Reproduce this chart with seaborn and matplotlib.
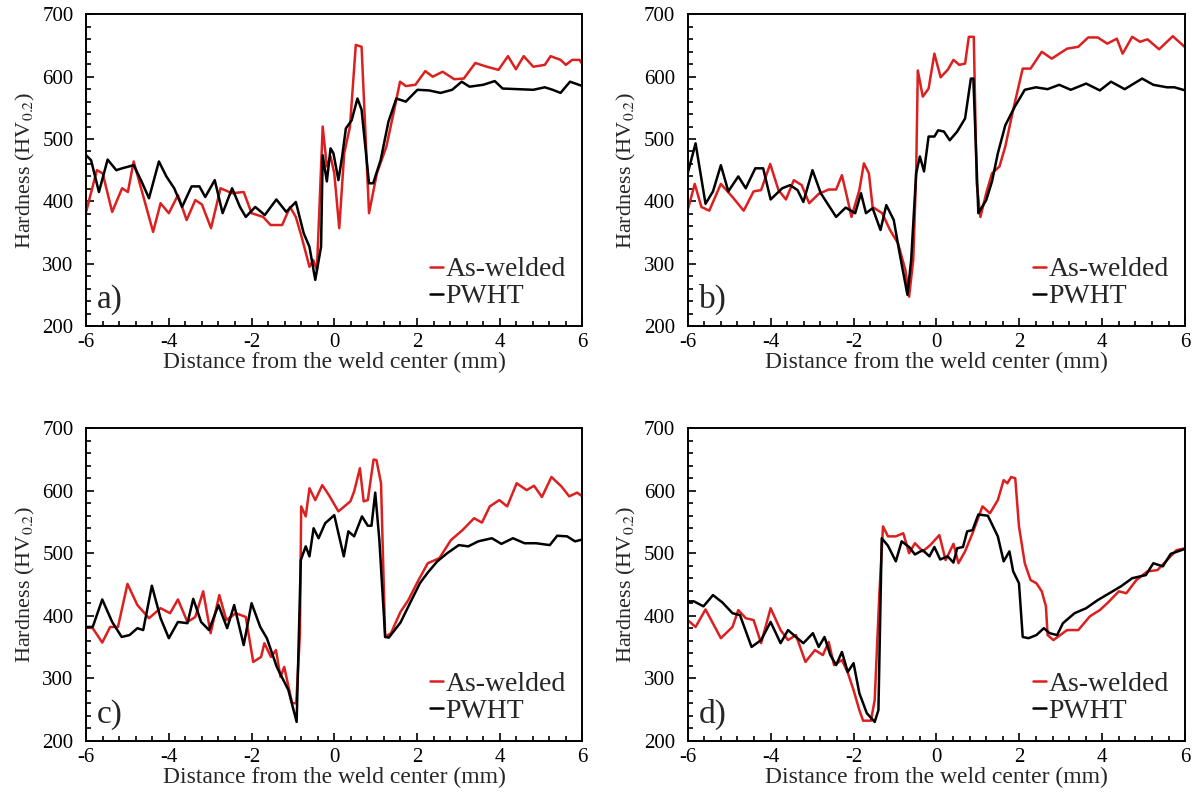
import numpy as np
import matplotlib
matplotlib.use("Agg")
import matplotlib.pyplot as plt
from matplotlib.ticker import MultipleLocator
import seaborn as sns

# panel a
a_red_x = [-6, -5.74, -5.6, -5.37, -5.13, -4.99, -4.85, -4.38, -4.2, -4.0, -3.78, -3.57, -3.36, -3.2,
           -2.98, -2.75, -2.47, -2.19, -2.0, -1.72, -1.54, -1.26, -1.07, -0.93, -0.79, -0.6, -0.51, -0.42,
           -0.28, -0.18, -0.09, 0.0, 0.12, 0.24, 0.38, 0.52, 0.66, 0.84, 1.03, 1.26, 1.45, 1.59, 1.73,
           1.96, 2.2, 2.38, 2.62, 2.9, 3.13, 3.41, 3.69, 3.97, 4.2, 4.39, 4.58, 4.81, 5.09, 5.23, 5.47,
           5.6, 5.75, 5.93, 6]
a_red_y = [383, 450, 445, 383, 421, 415, 464, 351, 397, 381, 410, 370, 402, 395,
           357, 421, 413, 415, 381, 375, 362, 362, 391, 375, 343, 295, 306, 290,
           520, 456, 472, 445, 357, 477, 520, 651, 648, 381, 445, 488, 547, 592, 585,
           587, 609, 600, 608, 596, 597, 622, 616, 611, 633, 612, 633, 616, 619, 633, 627,
           619, 627, 627, 620]
a_blk_x = [-6, -5.88, -5.69, -5.48, -5.27, -5.13, -4.85, -4.66, -4.48, -4.24, -4.06, -3.87, -3.68,
           -3.45, -3.26, -3.12, -2.89, -2.7, -2.47, -2.28, -2.14, -1.91, -1.68, -1.4, -1.16, -0.93,
           -0.74, -0.6, -0.46, -0.32, -0.28, -0.18, -0.09, -0.02, 0.1, 0.19, 0.28, 0.42, 0.56, 0.66,
           0.84, 0.94, 1.12, 1.31, 1.5, 1.73, 2.01, 2.29, 2.57, 2.85, 3.08, 3.27, 3.6, 3.88, 4.07,
           4.44, 4.81, 5.09, 5.28, 5.47, 5.7, 6]
a_blk_y = [474, 466, 415, 467, 450, 453, 458, 432, 405, 464, 440, 421, 391,
           424, 424, 407, 434, 381, 421, 391, 375, 391, 378, 403, 383, 399,
           349, 327, 274, 327, 474, 432, 485, 477, 434, 472, 517, 530, 565, 547,
           429, 429, 466, 528, 565, 560, 579, 578, 574, 579, 592, 584, 587, 593, 581,
           580, 579, 583, 579, 574, 592, 585]

# panel b
b_red_x = [-6, -5.83, -5.67, -5.48, -5.2, -4.92, -4.65, -4.41, -4.23, -4.01, -3.81, -3.63, -3.44,
           -3.25, -3.07, -2.84, -2.6, -2.42, -2.28, -2.14, -2.05, -1.86, -1.75, -1.63, -1.54, -1.31,
           -1.12, -0.93, -0.75, -0.66, -0.56, -0.49, -0.45, -0.33, -0.19, -0.05, 0.1, 0.27, 0.41,
           0.55, 0.69, 0.78, 0.9, 0.97, 1.06, 1.2, 1.34, 1.52, 1.66, 1.85, 2.08, 2.27, 2.54, 2.78,
           3.15, 3.42, 3.66, 3.89, 4.12, 4.35, 4.49, 4.72, 4.91, 5.09, 5.37, 5.7, 6]
b_red_y = [386, 428, 391, 385, 428, 407, 385, 416, 418, 460, 418, 403, 434,
           426, 397, 412, 419, 419, 442, 402, 375, 418, 461, 445, 391, 381,
           354, 333, 290, 247, 306, 445, 610, 568, 581, 637, 599, 611, 627,
           619, 621, 664, 664, 429, 375, 413, 445, 456, 488, 547, 613, 613, 640, 629,
           645, 648, 663, 663, 653, 661, 637, 664, 656, 660, 644, 665, 647]
b_blk_x = [-6, -5.81, -5.57, -5.39, -5.2, -5.02, -4.78, -4.6, -4.37, -4.18, -4.0, -3.72, -3.53,
           -3.35, -3.21, -2.99, -2.79, -2.42, -2.19, -1.96, -1.82, -1.7, -1.54, -1.35, -1.21, -1.03,
           -0.89, -0.7, -0.61, -0.49, -0.4, -0.3, -0.19, -0.05, 0.04, 0.18, 0.32, 0.5, 0.69, 0.83,
           0.89, 1.01, 1.2, 1.34, 1.48, 1.66, 1.89, 2.13, 2.4, 2.68, 2.96, 3.24, 3.61, 3.94, 4.21,
           4.54, 4.96, 5.23, 5.56, 5.74, 6]
b_blk_y = [445, 493, 396, 416, 458, 416, 440, 421, 453, 453, 403, 421, 426,
           418, 399, 450, 413, 375, 390, 381, 413, 381, 389, 354, 394, 370,
           317, 250, 306, 445, 472, 448, 504, 504, 514, 512, 498, 512, 533, 597,
           597, 381, 402, 432, 477, 522, 552, 579, 583, 580, 587, 579, 589, 578, 592,
           580, 597, 587, 583, 583, 578]

# panel c
c_red_x = [-6, -5.84, -5.61, -5.42, -5.23, -5.0, -4.76, -4.48, -4.2, -3.97, -3.78, -3.55, -3.36,
           -3.17, -2.99, -2.78, -2.61, -2.38, -2.14, -1.96, -1.77, -1.69, -1.53, -1.41, -1.3, -1.21,
           -1.02, -0.92, -0.83, -0.8, -0.69, -0.6, -0.46, -0.29, -0.13, 0.1, 0.39, 0.48, 0.62, 0.71,
           0.81, 0.95, 1.02, 1.13, 1.23, 1.37, 1.6, 1.79, 2.02, 2.26, 2.54, 2.82, 3.1, 3.38, 3.57,
           3.76, 3.99, 4.18, 4.41, 4.65, 4.83, 5.02, 5.25, 5.49, 5.68, 5.87, 6]
c_red_y = [382, 380, 357, 382, 382, 451, 417, 396, 412, 404, 426, 390, 398,
           439, 372, 433, 393, 404, 398, 326, 334, 356, 334, 345, 302, 318,
           260, 260, 372, 575, 559, 604, 585, 609, 593, 567, 583, 599, 636, 583,
           585, 650, 649, 612, 366, 372, 406, 425, 455, 484, 492, 521, 537, 556, 549,
           575, 585, 575, 612, 601, 608, 590, 622, 607, 591, 597, 591]
c_blk_x = [-6, -5.84, -5.61, -5.37, -5.14, -4.95, -4.76, -4.62, -4.41, -4.2, -4.0, -3.78, -3.55,
           -3.41, -3.22, -3.03, -2.8, -2.59, -2.42, -2.19, -2.0, -1.79, -1.63, -1.39, -1.11, -0.91,
           -0.81, -0.69, -0.6, -0.5, -0.38, -0.22, 0.0, 0.1, 0.23, 0.34, 0.48, 0.67, 0.81, 0.9,
           0.99, 1.09, 1.23, 1.32, 1.6, 1.83, 2.07, 2.26, 2.49, 2.73, 3.01, 3.24, 3.48, 3.81, 4.04,
           4.32, 4.6, 4.88, 5.21, 5.39, 5.63, 5.82, 6]
c_blk_y = [382, 382, 426, 390, 366, 369, 380, 377, 448, 396, 364, 390, 388,
           427, 390, 377, 417, 380, 417, 353, 420, 382, 364, 318, 281, 230,
           489, 511, 495, 540, 524, 548, 561, 532, 495, 535, 527, 559, 544, 544,
           597, 521, 366, 365, 389, 420, 452, 469, 487, 500, 513, 511, 519, 524, 515,
           524, 516, 516, 513, 528, 527, 519, 522]

# panel d
d_red_x = [-6, -5.81, -5.57, -5.2, -4.92, -4.78, -4.6, -4.41, -4.23, -4.0, -3.76, -3.58, -3.39,
           -3.16, -2.93, -2.74, -2.6, -2.47, -2.28, -2.14, -2.0, -1.86, -1.77, -1.58, -1.49, -1.38,
           -1.29, -1.17, -0.98, -0.8, -0.66, -0.52, -0.33, -0.15, 0.07, 0.22, 0.41, 0.53, 0.69,
           0.87, 1.11, 1.29, 1.48, 1.62, 1.71, 1.8, 1.9, 1.99, 2.13, 2.27, 2.41, 2.54, 2.64, 2.68,
           2.82, 3.15, 3.42, 3.7, 3.94, 4.12, 4.4, 4.58, 4.82, 5.09, 5.33, 5.56, 5.79, 6]
d_red_y = [393, 382, 410, 364, 382, 409, 396, 393, 356, 412, 377, 361, 369,
           326, 345, 337, 358, 321, 329, 309, 281, 249, 232, 232, 265, 431,
           543, 527, 527, 532, 500, 516, 503, 513, 529, 489, 515, 484, 503,
           532, 575, 564, 585, 617, 612, 622, 620, 543, 484, 457, 452, 439, 415, 369,
           361, 377, 377, 399, 409, 420, 439, 436, 457, 471, 473, 489, 505, 508]
d_blk_x = [-6, -5.85, -5.62, -5.39, -5.16, -4.92, -4.74, -4.46, -4.23, -4.0, -3.76, -3.58, -3.39,
           -3.21, -2.98, -2.84, -2.7, -2.56, -2.42, -2.28, -2.14, -2.0, -1.86, -1.68, -1.49, -1.4,
           -1.32, -1.17, -0.98, -0.84, -0.66, -0.52, -0.33, -0.17, -0.05, 0.09, 0.27, 0.41, 0.5,
           0.64, 0.74, 0.87, 1.01, 1.24, 1.48, 1.62, 1.76, 1.85, 1.99, 2.08, 2.22, 2.41, 2.59, 2.73,
           2.91, 3.05, 3.33, 3.61, 3.89, 4.17, 4.45, 4.72, 5.05, 5.23, 5.46, 5.65, 6]
d_blk_y = [423, 423, 415, 433, 421, 404, 401, 350, 361, 390, 356, 377, 366,
           356, 372, 350, 366, 337, 321, 342, 310, 324, 276, 244, 230, 249,
           524, 512, 487, 519, 510, 498, 505, 495, 510, 490, 495, 485, 508,
           510, 535, 537, 562, 560, 527, 487, 503, 471, 452, 366, 364, 369, 380, 372,
           369, 388, 404, 412, 425, 436, 447, 460, 465, 484, 479, 499, 507]

panels = [
    ("a)", a_red_x, a_red_y, a_blk_x, a_blk_y),
    ("b)", b_red_x, b_red_y, b_blk_x, b_blk_y),
    ("c)", c_red_x, c_red_y, c_blk_x, c_blk_y),
    ("d)", d_red_x, d_red_y, d_blk_x, d_blk_y),
]

sns.set_theme(style="ticks")
plt.rcParams['font.family'] = ['Liberation Serif', 'DejaVu Serif']
plt.rcParams['mathtext.fontset'] = 'stix'
plt.rcParams['axes.unicode_minus'] = False

red = "#dc1f1f"
fig = plt.figure(figsize=(11.96, 7.99), dpi=100)
positions = [
    [0.072, 0.592, 0.415, 0.390],
    [0.575, 0.592, 0.416, 0.390],
    [0.072, 0.073, 0.415, 0.391],
    [0.575, 0.073, 0.416, 0.391],
]

for pos, (tag, rx, ry, kx, ky) in zip(positions, panels):
    ax = fig.add_axes(pos)
    sns.lineplot(x=rx, y=ry, color=red, lw=1.8, sort=False, estimator=None,
                 label="As-welded", ax=ax)
    sns.lineplot(x=kx, y=ky, color="black", lw=1.8, sort=False, estimator=None,
                 label="PWHT", ax=ax)
    ax.set_xlim(-6, 6)
    ax.set_ylim(200, 700)
    ax.xaxis.set_major_locator(MultipleLocator(2))
    ax.xaxis.set_minor_locator(MultipleLocator(0.4))
    ax.yaxis.set_major_locator(MultipleLocator(100))
    ax.yaxis.set_minor_locator(MultipleLocator(20))
    ax.tick_params(which="both", direction="in", top=False, right=False,
                   labelsize=15, width=1.2, colors="black")
    ax.tick_params(which="major", length=6)
    ax.tick_params(which="minor", length=3.5)
    ax.tick_params(axis="y", which="major", pad=9)
    ax.tick_params(axis="x", which="major", pad=5)
    for s in ax.spines.values():
        s.set_linewidth(1.4)
        s.set_color("black")
    ax.set_xlabel("Distance from the weld center (mm)", fontsize=17, labelpad=0)
    ax.set_ylabel(r"Hardness (HV$_{0.2}$)", fontsize=16, labelpad=4)
    ax.legend(loc="lower right", bbox_to_anchor=(1.0, 0.0), frameon=False,
              fontsize=20, handlelength=0.45, handletextpad=0.1,
              borderaxespad=0.2, labelspacing=0.05)
    ax.text(0.022, 0.035, tag, transform=ax.transAxes, fontsize=24,
            ha="left", va="bottom")

fig.savefig("out.png", dpi=100)
plt.close(fig)
